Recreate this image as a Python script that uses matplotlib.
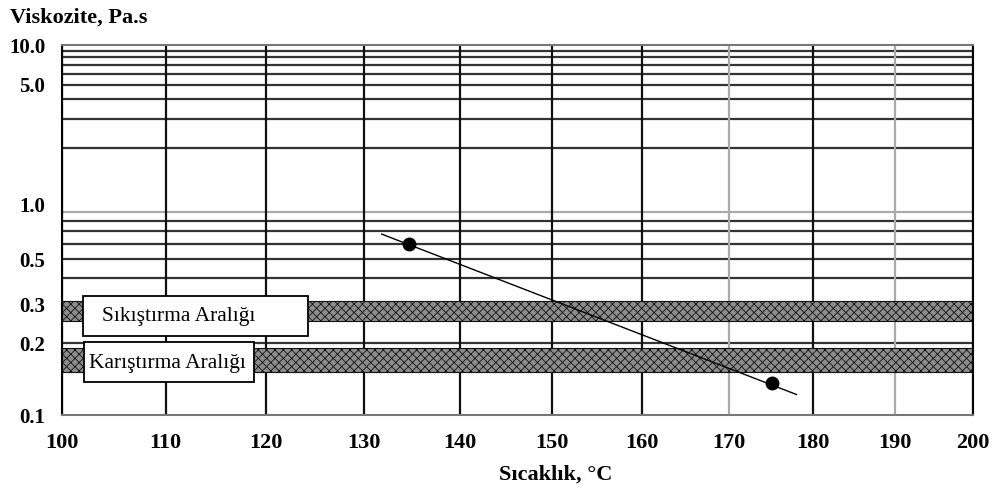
import numpy as np
import matplotlib
matplotlib.use('Agg')
import matplotlib.pyplot as plt
from matplotlib.patches import Rectangle
from matplotlib.ticker import NullFormatter

# ---- data ----
temps_fit = [131.8, 178.0]          # fitted line end points (°C)
visc_fit = [0.677, 0.121]           # Pa.s
temps_pts = [134.6, 175.1]          # measured points (°C)
visc_pts = [0.60, 0.135]            # Pa.s
compaction_range = [0.25, 0.31]     # Sıkıştırma Aralığı (Pa.s)
mixing_range = [0.15, 0.19]         # Karıştırma Aralığı (Pa.s)
compaction_label = 'Sıkıştırma Aralığı'
mixing_label = 'Karıştırma Aralığı'
xticks = list(range(100, 201, 10))
light_xgrid = [170, 190]
yticks = [0.1, 0.2, 0.3, 0.5, 1.0, 5.0, 10.0]
ytick_labels = ['0.1', '0.2', '0.3', '0.5', '1.0', '5.0', '10.0']
ygrid = [0.2, 0.3, 0.4, 0.5, 0.6, 0.7, 0.8, 0.9, 2, 3, 4, 5, 6, 7, 8, 9]
light_ygrid = [0.9]
ylabel = 'Viskozite, Pa.s'
xlabel = 'Sıcaklık, °C'

plt.rcParams['font.family'] = ['Liberation Serif', 'DejaVu Serif']
plt.rcParams['hatch.linewidth'] = 0.6

fig = plt.figure(figsize=(9.97, 4.90), dpi=100)
ax = fig.add_axes([0.0622, 0.153, 0.914, 0.755])

# The original graph paper is not evenly ruled; these scales reproduce its ruling.
XA, XB = 1049.0, 138.0
def fwd_x(x):
    u = (np.asarray(x, dtype=float) - 100.0) / 100.0
    return u * (XA - XB * u)
def inv_x(t):
    t = np.asarray(t, dtype=float)
    disc = np.clip(XA ** 2 - 4 * XB * t, 0, None)
    return 100.0 + 100.0 * (XA - np.sqrt(disc)) / (2 * XB)

PA, PB = 197.7, 38.7   # upper decade
NA, NB = 170.6, 40.4   # lower decade
def fwd_y(v):
    L = np.log10(np.clip(np.asarray(v, dtype=float), 1e-9, None))
    return np.where(L >= 0, L * (PA - PB * L), L * (NA - NB * L))
def inv_y(t):
    t = np.asarray(t, dtype=float)
    dp = np.clip(PA ** 2 - 4 * PB * t, 0, None)
    dn = np.clip(NA ** 2 - 4 * NB * t, 0, None)
    L = np.where(t >= 0, (PA - np.sqrt(dp)) / (2 * PB), (NA - np.sqrt(dn)) / (2 * NB))
    return 10 ** L

ax.set_xscale('function', functions=(fwd_x, inv_x))
ax.set_yscale('function', functions=(fwd_y, inv_y))
ax.set_xlim(100, 200)
ax.set_ylim(0.1, 10)

ax.set_xticks(xticks)
ax.set_xticklabels([str(t) for t in xticks])
ax.set_xticks([], minor=True)
ax.set_yticks(yticks)
ax.set_yticklabels(ytick_labels)
ax.set_yticks(ygrid, minor=True)
ax.yaxis.set_minor_formatter(NullFormatter())
ax.tick_params(axis='both', which='both', length=0)
ax.tick_params(axis='y', pad=12, labelsize=15)
ax.tick_params(axis='x', pad=13, labelsize=16)
for lab in ax.get_xticklabels() + ax.get_yticklabels():
    lab.set_fontweight('bold')

# grid
for v in ygrid:
    ax.axhline(v, color='#aaaaaa' if v in light_ygrid else '#333333', lw=1.6, zorder=1)
for x in xticks:
    ax.axvline(x, color='#aaaaaa' if x in light_xgrid else '#111111', lw=1.6, zorder=1)

# bands
for rng in (compaction_range, mixing_range):
    ax.axhspan(rng[0], rng[1], facecolor='#8c8c8c', edgecolor='#111111',
               hatch='xxxx', lw=0.8, zorder=2)

# line + points
ax.plot(temps_fit, visc_fit, color='black', lw=1.0, zorder=4)
ax.plot(temps_pts, visc_pts, 'o', color='black', ms=9, zorder=5)

# labelled boxes
ax.add_patch(Rectangle((0.023, 0.2135), 0.247, 0.108, transform=ax.transAxes,
                       facecolor='white', edgecolor='black', lw=1.3, zorder=6))
ax.text(0.0439, 0.2650, compaction_label, transform=ax.transAxes, fontsize=15.5,
        va='center', ha='left', zorder=7)
ax.add_patch(Rectangle((0.024, 0.0892), 0.187, 0.108, transform=ax.transAxes,
                       facecolor='white', edgecolor='black', lw=1.3, zorder=6))
ax.text(0.0296, 0.140, mixing_label, transform=ax.transAxes, fontsize=15.5,
        va='center', ha='left', zorder=7)

for name, s in ax.spines.items():
    s.set_color('#777777' if name in ('bottom', 'top') else 'black')
    s.set_linewidth(1.5)
    s.set_zorder(8)

fig.text(0.01, 0.953, ylabel, fontsize=16, fontweight='bold', va='baseline', ha='left')
fig.text(0.557, 0.0204, xlabel, fontsize=16, fontweight='bold', va='baseline', ha='center')

fig.savefig('out.png', dpi=100)
